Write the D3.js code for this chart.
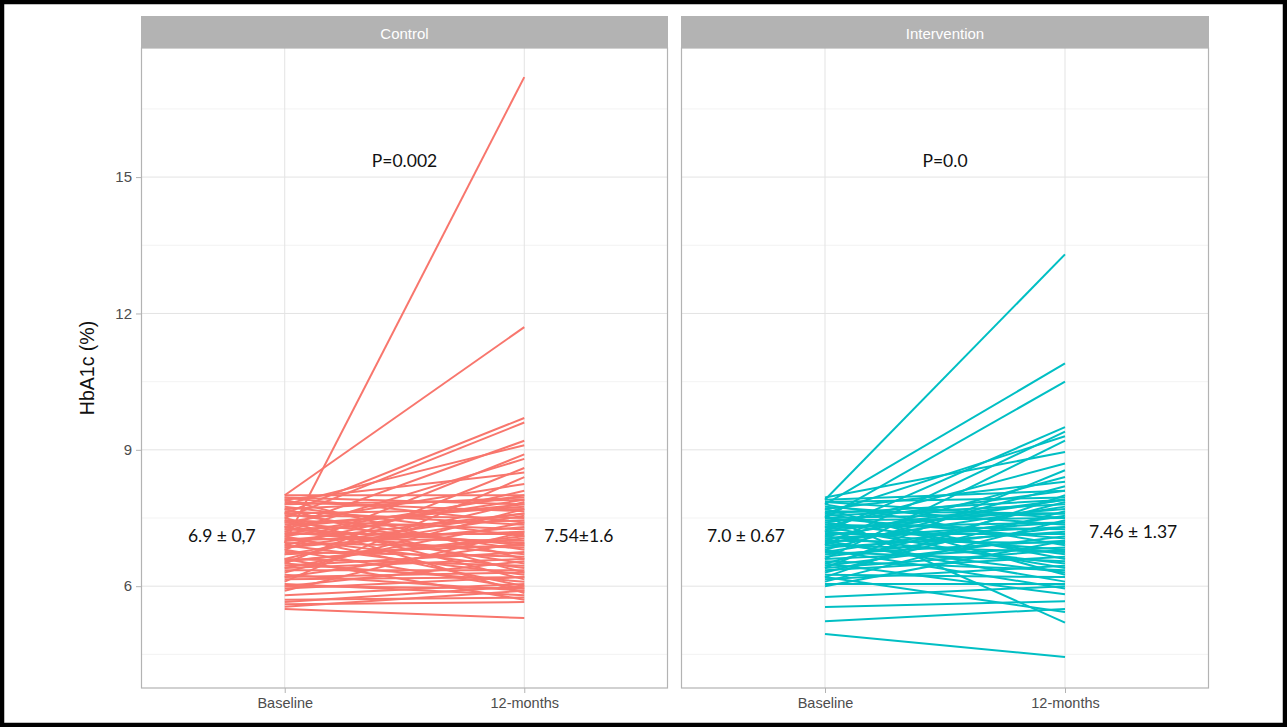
<!DOCTYPE html>
<html>
<head>
<meta charset="utf-8">
<script src="https://cdn.jsdelivr.net/npm/d3@7"></script>
<style>
  html, body { margin: 0; padding: 0; background: #fff; }
  svg { display: block; }
</style>
</head>
<body>
<svg id="chart" width="1287" height="727"></svg>
<script>
// Time points on the x axis
const timepoints = ["Baseline", "12-months"];
const groups = ["Control", "Intervention"];
const groupColors = ["#F8766D", "#00BFC4"];
const yTicks = [6, 9, 12, 15];
const yMinor = [4.5, 7.5, 10.5, 13.5, 16.5];

// HbA1c per participant: [baseline, 12-months]
const controlPairs = [
  [6.95, 17.2], [8.0, 11.7], [7.6, 9.7], [7.5, 9.6], [7.3, 9.2], [7.8, 9.1], [6.8, 8.9], [7.2, 8.8],
  [6.5, 8.6], [7.9, 8.5], [6.1, 8.4], [7.4, 8.25], [6.9, 8.1], [8.0, 8.0], [7.7, 7.95], [7.1, 7.9],
  [6.6, 7.85], [7.95, 7.8], [7.35, 7.75], [6.3, 7.7], [7.85, 7.65], [7.0, 7.6], [6.7, 7.55], [7.55, 7.5],
  [7.25, 7.45], [6.4, 7.4], [7.65, 7.35], [6.85, 7.3], [7.45, 7.25], [5.9, 7.2], [7.15, 7.15], [7.75, 7.1],
  [6.55, 7.05], [7.05, 7.0], [6.2, 6.95], [7.4, 6.9], [6.95, 6.85], [7.6, 6.8], [6.45, 6.75], [7.2, 6.7],
  [6.75, 6.65], [7.9, 6.6], [6.0, 6.55], [7.3, 6.5], [6.6, 6.45], [7.05, 6.4], [6.35, 6.35], [7.7, 6.3],
  [6.9, 6.25], [6.15, 6.2], [7.5, 6.15], [6.5, 6.1], [5.8, 6.05], [7.1, 6.0], [6.8, 5.95], [6.25, 5.9],
  [7.45, 5.85], [6.05, 5.8], [5.7, 5.75], [6.6, 5.7], [5.6, 5.65], [5.5, 5.3], [5.55, 5.9], [5.65, 6.0],
  [7.8, 7.9], [7.6, 7.7], [7.0, 7.2], [6.7, 6.9], [6.4, 6.6], [7.3, 7.8], [7.15, 8.0], [6.85, 7.6],
  [6.55, 7.1], [7.95, 7.4], [7.25, 6.95], [6.2, 6.3], [5.95, 6.2], [6.0, 5.95]
];
const interventionPairs = [
  [7.9, 13.3], [7.8, 10.9], [7.5, 10.5], [7.2, 9.5], [6.9, 9.4], [7.6, 9.3], [6.6, 9.2], [7.95, 8.95],
  [7.3, 8.7], [6.4, 8.55], [7.0, 8.4], [7.7, 8.3], [6.8, 8.2], [7.4, 8.1], [6.2, 8.0], [7.85, 7.95],
  [7.1, 7.9], [6.5, 7.85], [7.55, 7.8], [6.95, 7.75], [7.25, 7.7], [6.3, 7.65], [7.65, 7.6], [6.75, 7.55],
  [7.45, 7.5], [6.1, 7.45], [7.05, 7.4], [7.75, 7.35], [6.65, 7.3], [7.35, 7.25], [6.85, 7.2], [7.15, 7.15],
  [6.45, 7.1], [7.5, 7.05], [6.0, 7.0], [7.0, 6.95], [7.8, 6.9], [6.6, 6.85], [7.2, 6.8], [6.9, 6.75],
  [7.4, 6.7], [6.35, 6.65], [7.6, 6.6], [6.75, 6.55], [7.1, 6.5], [6.15, 6.45], [7.3, 6.4], [6.55, 6.35],
  [6.95, 6.3], [7.7, 6.25], [6.25, 6.2], [7.0, 6.1], [6.05, 6.05], [6.8, 5.95], [7.55, 5.2], [6.5, 5.82],
  [5.76, 6.0], [5.54, 5.67], [5.23, 5.5], [6.2, 5.43], [4.95, 4.44], [7.9, 8.1], [7.6, 7.9], [7.3, 7.4],
  [6.7, 7.0], [7.5, 7.6], [7.05, 7.3], [6.4, 6.8], [7.85, 7.5], [7.2, 7.9]
];
const pairsByGroup = [controlPairs, interventionPairs];

// Text annotations per panel
const pLabels = ["P=0.002", "P=0.0"];
const baselineStats = ["6.9 \u00B1 0,7", "7.0 \u00B1 0.67"];
const followupStats = ["7.54\u00B11.6", "7.46 \u00B1 1.37"];

const svg = d3.select("#chart");
const W = 1287, H = 727;

// Layout
const panelTop = 48, panelBottom = 688;
const stripTop = 16;
const panelX = [[141, 668], [681, 1209]];
const baseOffset = [29, 40];   // gap between stat label and baseline position
const followOffset = [20, 24];
const followLabelY = [6.98, 7.07];

const y = d3.scaleLinear().domain([3.76, 17.84]).range([panelBottom, panelTop]);

const gridCol = "#e3e3e3";
const borderCol = "#b3b3b3";
const axisTextCol = "#4d4d4d";

groups.forEach((g, i) => {
  const [x0, x1] = panelX[i];
  const x = d3.scalePoint().domain(timepoints).range([x0, x1]).padding(0.6);
  const panel = svg.append("g");

  // minor horizontal grid
  panel.selectAll(".minor").data(yMinor).join("line")
    .attr("x1", x0).attr("x2", x1)
    .attr("y1", d => y(d)).attr("y2", d => y(d))
    .attr("stroke", "#f0f0f0").attr("stroke-width", 0.8);
  // major horizontal grid
  panel.selectAll(".major").data(yTicks).join("line")
    .attr("x1", x0).attr("x2", x1)
    .attr("y1", d => y(d)).attr("y2", d => y(d))
    .attr("stroke", gridCol).attr("stroke-width", 1);
  // vertical grid
  panel.selectAll(".vgrid").data(timepoints).join("line")
    .attr("x1", d => x(d)).attr("x2", d => x(d))
    .attr("y1", panelTop).attr("y2", panelBottom)
    .attr("stroke", gridCol).attr("stroke-width", 1);

  // participant trajectories
  const line = d3.line().x(d => x(d[0])).y(d => y(d[1]));
  panel.append("g").selectAll("path").data(pairsByGroup[i]).join("path")
    .attr("d", d => line([[timepoints[0], d[0]], [timepoints[1], d[1]]]))
    .attr("fill", "none")
    .attr("stroke", groupColors[i])
    .attr("stroke-width", 2);

  // panel border
  panel.append("rect")
    .attr("x", x0 + 0.5).attr("y", panelTop)
    .attr("width", x1 - x0 - 1).attr("height", panelBottom - panelTop)
    .attr("fill", "none").attr("stroke", borderCol).attr("stroke-width", 1.2);

  // strip
  panel.append("rect")
    .attr("x", x0).attr("y", stripTop)
    .attr("width", x1 - x0).attr("height", panelTop - stripTop)
    .attr("fill", borderCol);
  panel.append("text")
    .attr("x", (x0 + x1) / 2).attr("y", (stripTop + panelTop) / 2 + 1)
    .attr("text-anchor", "middle").attr("dominant-baseline", "central")
    .attr("font-family", "Liberation Sans, Arial, sans-serif")
    .attr("font-size", 15).attr("fill", "#ffffff")
    .text(g);

  // x axis
  const xAxis = panel.append("g")
    .attr("transform", `translate(0,${panelBottom})`)
    .call(d3.axisBottom(x).tickSize(5).tickPadding(5));
  xAxis.select(".domain").remove();
  xAxis.selectAll(".tick line").attr("stroke", borderCol);
  xAxis.selectAll(".tick text")
    .attr("font-family", "Liberation Sans, Arial, sans-serif")
    .attr("font-size", 14.5).attr("fill", axisTextCol);

  // annotations
  const ann = panel.append("g")
    .attr("font-family", "Lato, 'Open Sans', sans-serif")
    .attr("font-size", 17.5).attr("fill", "#111");
  ann.append("text")
    .attr("x", (x(timepoints[0]) + x(timepoints[1])) / 2)
    .attr("y", y(15.22))
    .attr("text-anchor", "middle")
    .text(pLabels[i]);
  ann.append("text")
    .attr("x", x(timepoints[0]) - baseOffset[i])
    .attr("y", y(6.98))
    .attr("text-anchor", "end")
    .text(baselineStats[i]);
  ann.append("text")
    .attr("x", x(timepoints[1]) + followOffset[i])
    .attr("y", y(followLabelY[i]))
    .attr("text-anchor", "start")
    .text(followupStats[i]);
});

// y axis
const yAxis = svg.append("g")
  .attr("transform", `translate(${panelX[0][0]},0)`)
  .call(d3.axisLeft(y).tickValues(yTicks).tickSize(5).tickPadding(4));
yAxis.select(".domain").remove();
yAxis.selectAll(".tick line").attr("stroke", borderCol);
yAxis.selectAll(".tick text")
  .attr("font-family", "Liberation Sans, Arial, sans-serif")
  .attr("font-size", 15).attr("fill", axisTextCol);

svg.append("text")
  .attr("transform", `translate(94,${(panelTop + panelBottom) / 2}) rotate(-90)`)
  .attr("text-anchor", "middle")
  .attr("font-family", "Liberation Sans, Arial, sans-serif")
  .attr("font-size", 19.5).attr("fill", "#111")
  .text("HbA1c (%)");

// outer frame
svg.append("rect")
  .attr("x", 2).attr("y", 2).attr("width", W - 4).attr("height", H - 4)
  .attr("fill", "none").attr("stroke", "#000").attr("stroke-width", 4.5);
</script>
</body>
</html>
